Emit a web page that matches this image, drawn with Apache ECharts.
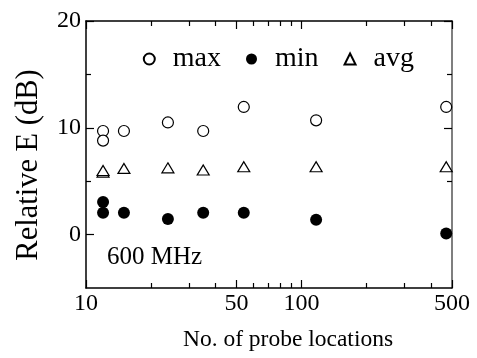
<!DOCTYPE html>
<html>
<head>
<meta charset="utf-8">
<script src="https://cdn.jsdelivr.net/npm/echarts@6/dist/echarts.min.js"></script>
<style>html,body{margin:0;padding:0;background:#fff}#c{width:477px;height:358px}</style>
</head>
<body>
<div id="c"></div>
<script>
// Number of probe locations for each point
var maxN = [12, 12, 15, 24, 35, 54, 117, 470];
var maxV = [9.7, 8.8, 9.7, 10.5, 9.7, 11.95, 10.7, 11.95];
var minN = [12, 12, 15, 24, 35, 54, 117, 470];
var minV = [3.05, 2.05, 2.05, 1.45, 2.05, 2.05, 1.4, 0.1];
var avgN = [12, 12, 15, 24, 35, 54, 117, 470];
var avgV = [5.85, 6.0, 6.2, 6.25, 6.05, 6.35, 6.35, 6.35];
var xMajor = [10, 50, 100, 500];
var xMinor = [20, 30, 40, 60, 70, 80, 90, 200, 300, 400];
var yMajor = [0, 10, 20];
var yMinor = [5, 15];
var seriesNames = ['max', 'min', 'avg'];
var note = '600 MHz';

function pairs(xs, ys) { return xs.map(function (x, i) { return [x, ys[i]]; }); }

var FONT = 'Liberation Serif';
var chart = echarts.init(document.getElementById('c'), null, {renderer: 'canvas'});

function xAx(pos, ticks, len, labels, showLine, extra) {
  var a = {
    type: 'log', logBase: 10, min: 10, max: 500, position: pos,
    axisLine: {show: showLine, onZero: false, lineStyle: {color: '#000', width: 1.5}},
    axisTick: {show: true, inside: true, length: len, customValues: ticks, lineStyle: {color: '#000', width: 1.2}},
    axisLabel: labels ? {show: true, customValues: labels, fontFamily: FONT, fontSize: 24, color: '#000', margin: 4}
                      : {show: false},
    splitLine: {show: false}, minorTick: {show: false}
  };
  return Object.assign(a, extra || {});
}
function yAx(pos, ticks, len, labels, showLine, color, extra) {
  var a = {
    type: 'value', min: -5, max: 20, interval: 5, position: pos,
    axisLine: {show: showLine, onZero: false, lineStyle: {color: color || '#000', width: 1.5}},
    axisTick: {show: true, inside: true, length: len, customValues: ticks, lineStyle: {color: '#000', width: 1.2}},
    axisLabel: labels ? {show: true, customValues: labels, fontFamily: FONT, fontSize: 24, color: '#000', margin: 5}
                      : {show: false},
    splitLine: {show: false}
  };
  return Object.assign(a, extra || {});
}

var option = {
  animation: false,
  backgroundColor: '#fff',
  grid: {left: 86, right: 25, top: 21, bottom: 70},
  xAxis: [
    xAx('bottom', xMajor, 8, xMajor, true, {
      name: 'No. of probe locations', nameLocation: 'middle', nameGap: 40,
      nameTextStyle: {fontFamily: FONT, fontSize: 23.5, color: '#000', padding: [0, 0, 0, 38]}
    }),
    xAx('bottom', xMinor, 5, null, false),
    xAx('top', xMajor, 8, null, true),
    xAx('top', xMinor, 5, null, false)
  ],
  yAxis: [
    yAx('left', yMajor, 8, yMajor, true, '#000', {
      name: 'Relative E (dB)', nameLocation: 'middle', nameGap: 42,
      nameTextStyle: {fontFamily: FONT, fontSize: 30.5, color: '#000', padding: [0, 21, 0, 0]}
    }),
    yAx('left', yMinor, 5, null, false),
    yAx('right', yMajor, 8, null, true, '#555'),
    yAx('right', yMinor, 5, null, false)
  ],
  legend: {
    left: 137.8, top: 40, orient: 'horizontal',
    itemWidth: 11, itemHeight: 11, itemGap: 25,
    data: seriesNames,
    textStyle: {fontFamily: FONT, fontSize: 28, color: '#000', padding: [0, 0, 0, 13]}
  },
  graphic: [{
    type: 'text', left: 107, top: 245,
    style: {text: note, font: '25px "Liberation Serif"', fill: '#000'}
  }],
  series: [
    {name: seriesNames[0], type: 'scatter', data: pairs(maxN, maxV), symbol: 'circle', symbolSize: 11,
     itemStyle: {color: '#fff', borderColor: '#000', borderWidth: 1.2, opacity: 1}},
    {name: seriesNames[1], type: 'scatter', data: pairs(minN, minV), symbol: 'circle', symbolSize: 12,
     itemStyle: {color: '#000', borderColor: '#000', borderWidth: 0, opacity: 1}},
    {name: seriesNames[2], type: 'scatter', data: pairs(avgN, avgV), symbol: 'triangle', symbolSize: [12, 10],
     itemStyle: {color: '#fff', borderColor: '#000', borderWidth: 1.2, opacity: 1}}
  ]
};
chart.setOption(option);
</script>
</body>
</html>
